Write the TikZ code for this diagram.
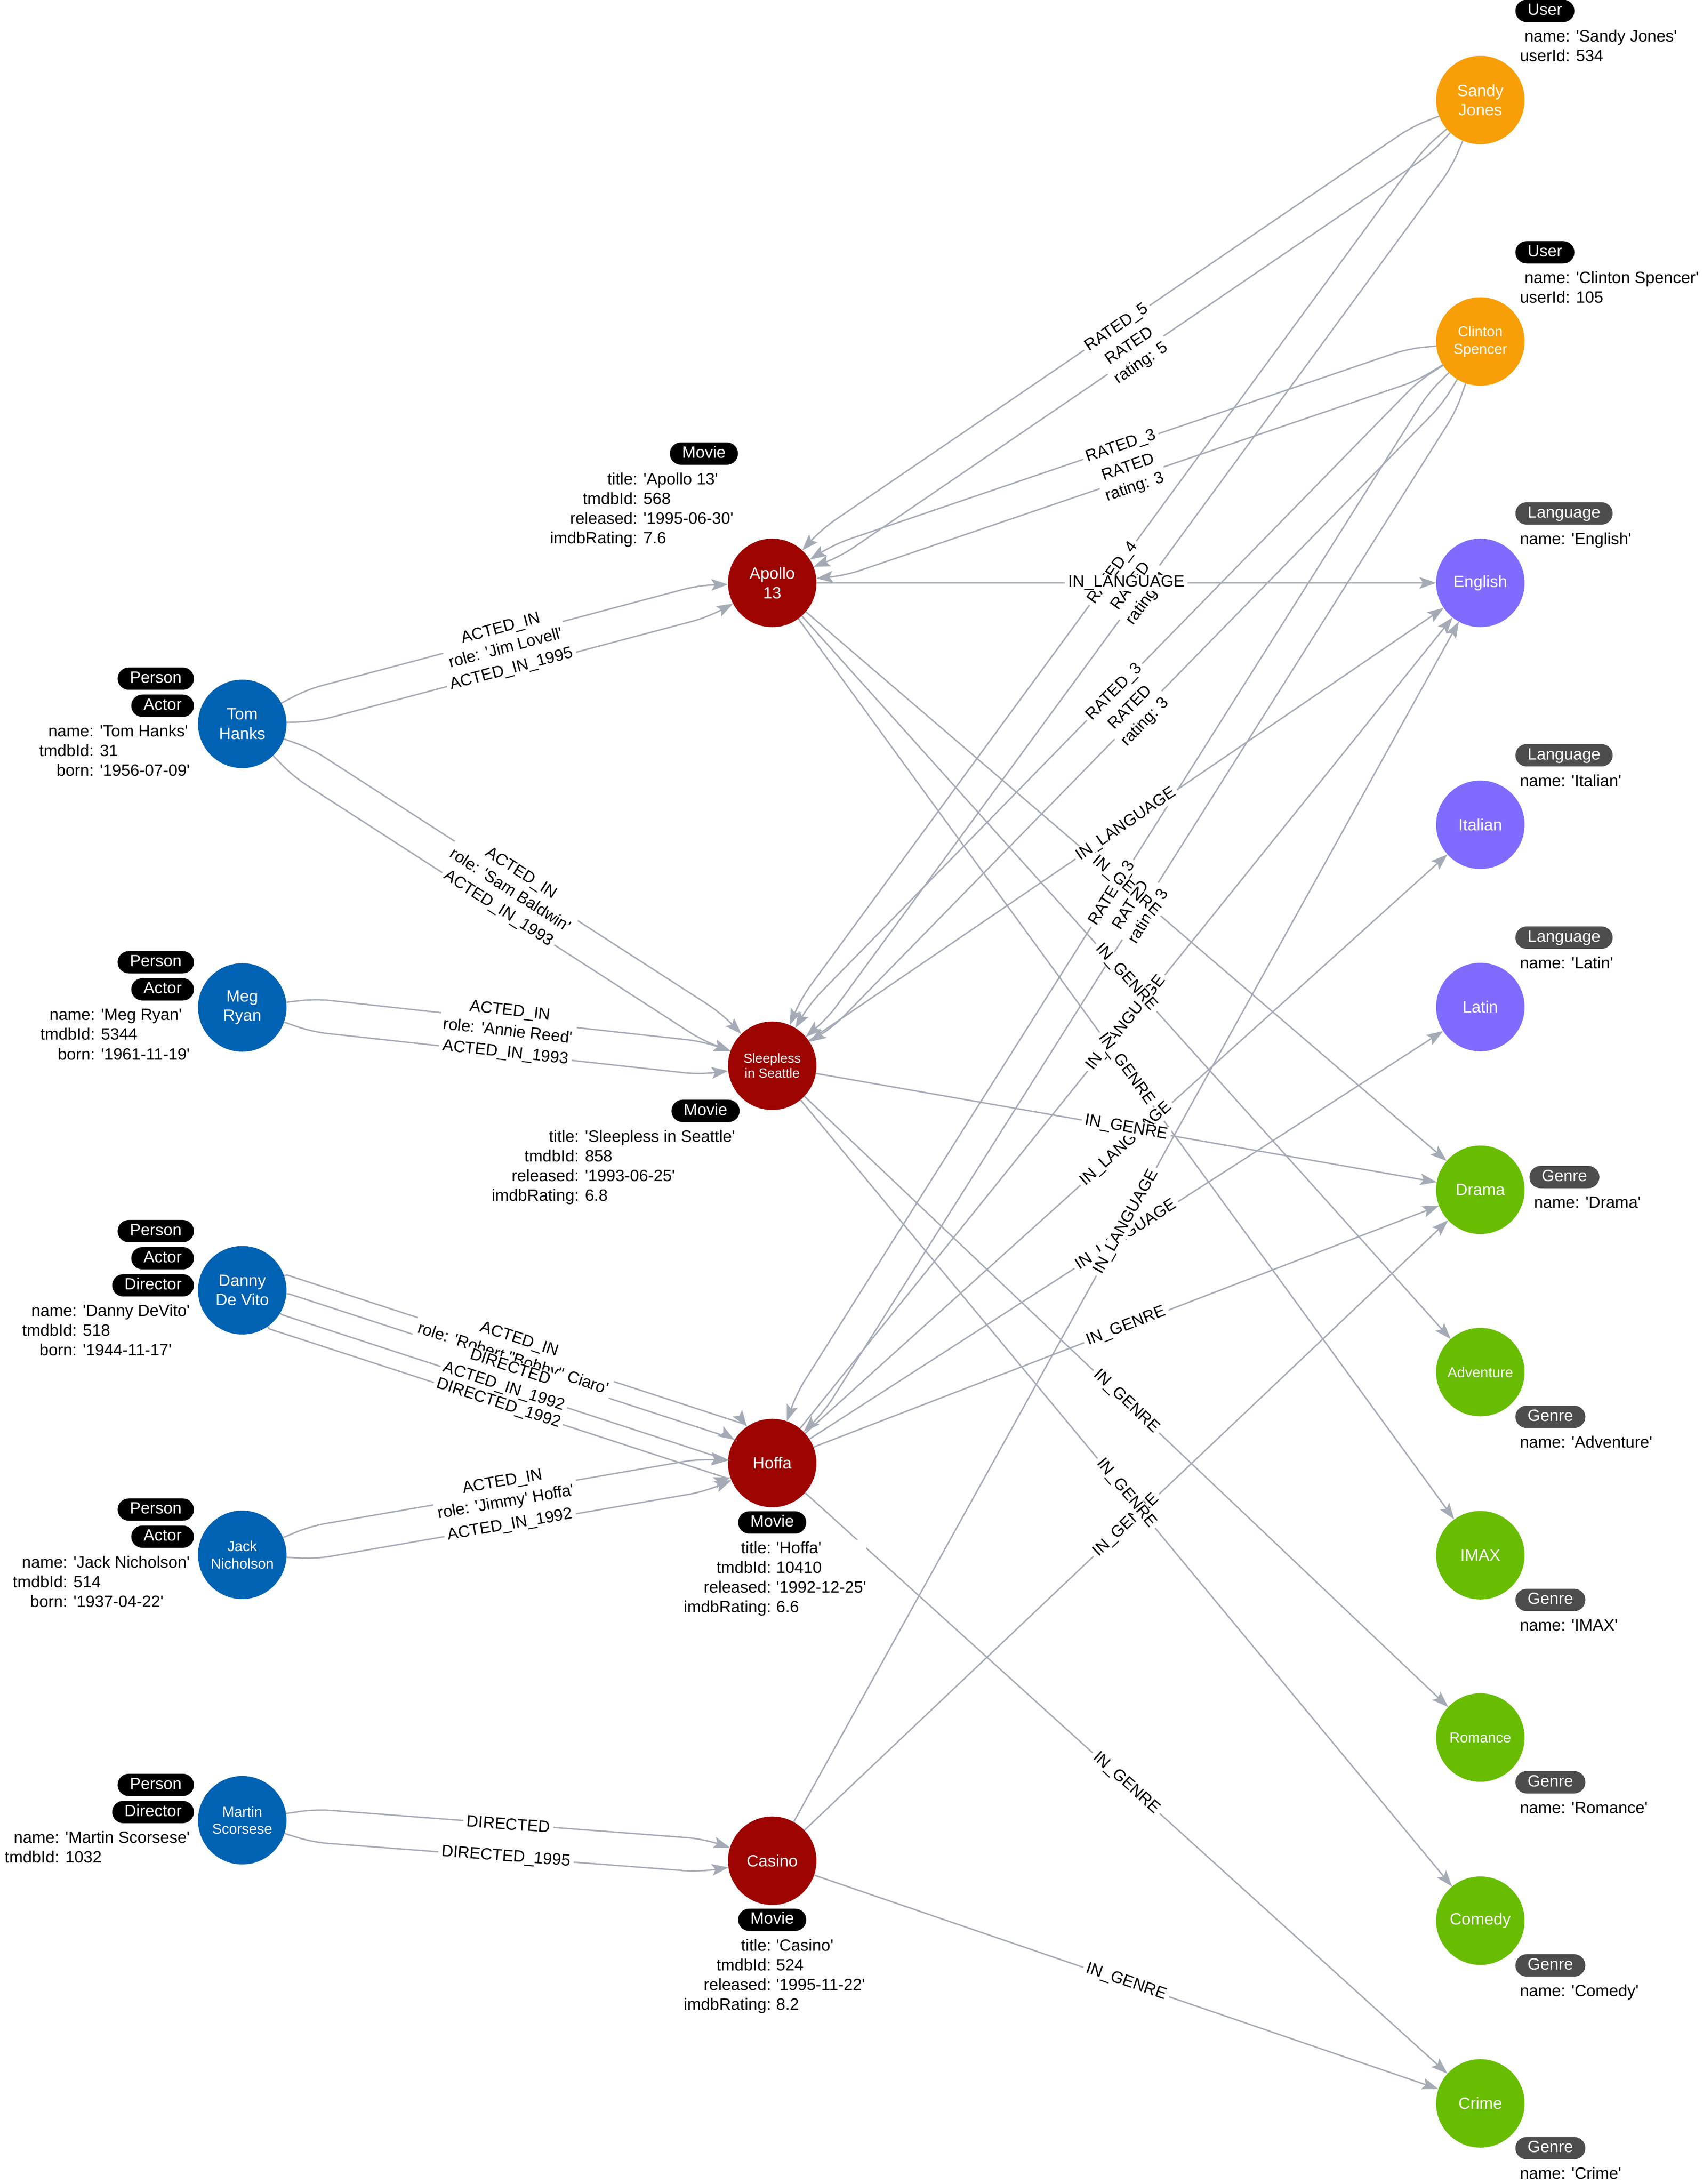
\documentclass[tikz,border=0pt]{standalone}
\usepackage{fontspec}
\newfontfamily\graphfont{Liberation Sans}
\usetikzlibrary{positioning,calc,arrows.meta}

\definecolor{personblue}{RGB}{0,98,178}
\definecolor{moviered}{RGB}{157,4,0}
\definecolor{userorange}{RGB}{248,158,7}
\definecolor{langpurple}{RGB}{127,108,255}
\definecolor{genregreen}{RGB}{104,189,0}
\definecolor{relgray}{RGB}{165,171,182}
\definecolor{taggray}{RGB}{77,77,77}

\newcommand{\capfont}{\graphfont\fontsize{9.9pt}{11.75pt}\selectfont}
\newcommand{\smallcapfont}{\graphfont\fontsize{8.7pt}{10.5pt}\selectfont}
\newcommand{\tinycapfont}{\graphfont\fontsize{8pt}{9.1pt}\selectfont}
\newcommand{\propfont}{\graphfont\fontsize{9.9pt}{11.9pt}\selectfont}
\newcommand{\relfont}{\graphfont\fontsize{9.9pt}{12.5pt}\selectfont}

\begin{document}
\begin{tikzpicture}[
	entity/.style={circle, minimum size=53.5pt, inner sep=0pt, outer sep=0pt, text=white, align=center, font=\capfont},
	person/.style={entity, fill=personblue},
	movie/.style={entity, fill=moviered},
	user/.style={entity, fill=userorange},
	language/.style={entity, fill=langpurple},
	genre/.style={entity, fill=genregreen},
	tag/.style={fill=black, text=white, rounded corners=6.75pt, minimum height=13.5pt, inner xsep=7.4pt, inner ysep=0pt, text height=7.2pt, text depth=2pt, font=\propfont},
	graytag/.style={tag, fill=taggray},
	props/.style={fill=white, inner sep=0pt, font=\propfont},
	rel/.style={draw=relgray, line width=0.85pt, rounded corners=9pt, -{Stealth[length=10pt, width=7pt, inset=2pt]}},
	lbl/.style={midway, sloped, fill=white, inner xsep=2pt, inner ysep=0.5pt, align=center, font=\relfont},
	lane left/.style 2 args={to path={
		($(\tikztostart)!26.75pt!#1:(\tikztotarget)$)
		-- ($(\tikztostart)!#2!#1:(\tikztotarget)$)
		-- ($(\tikztotarget)!#2!-#1:(\tikztostart)$) \tikztonodes
		-- ($(\tikztotarget)!26.75pt!-#1:(\tikztostart)$)}},
	lane right/.style 2 args={to path={
		($(\tikztostart)!26.75pt!-#1:(\tikztotarget)$)
		-- ($(\tikztostart)!#2!-#1:(\tikztotarget)$)
		-- ($(\tikztotarget)!#2!#1:(\tikztostart)$) \tikztonodes
		-- ($(\tikztotarget)!26.75pt!#1:(\tikztostart)$)}},
	pair left/.style={lane left={13}{44.5pt}},
	pair right/.style={lane right={13}{44.5pt}}
	]
	\useasboundingbox (0,0) rectangle (1029.75pt,-1320.75pt);

	\node (sandy) [user] at (895.25pt,-60.5pt) {Sandy\\Jones};
	\node (clinton) [user, node distance=146pt, below of=sandy, font=\smallcapfont] {Clinton\\Spencer};
	\node (english) [language, node distance=146pt, below of=clinton] {English};
	\node (italian) [language, node distance=146.25pt, below of=english] {Italian};
	\node (latin) [language, node distance=110.25pt, below of=italian] {Latin};
	\node (drama) [genre, node distance=110.5pt, below of=latin] {Drama};
	\node (adventure) [genre, node distance=110.25pt, below of=drama, font=\smallcapfont] {Adventure};
	\node (imax) [genre, node distance=110.75pt, below of=adventure] {IMAX};
	\node (romance) [genre, node distance=110.25pt, below of=imax, font=\smallcapfont] {Romance};
	\node (comedy) [genre, node distance=110.75pt, below of=romance] {Comedy};
	\node (crime) [genre, node distance=110.5pt, below of=comedy] {Crime};

	\node (apollo) [movie, node distance=428.25pt, left of=english] {Apollo\\13};
	\node (sleepless) [movie, node distance=292pt, below of=apollo, font=\tinycapfont] {Sleepless\\in Seattle};
	\node (hoffa) [movie, node distance=240.25pt, below of=sleepless] {Hoffa};
	\node (casino) [movie, node distance=240.5pt, below of=hoffa] {Casino};

	\node (tom) [person, node distance=320.5pt, left of=apollo, yshift=-85.25pt] {Tom\\Hanks};
	\node (meg) [person, node distance=171.5pt, below of=tom] {Meg\\Ryan};
	\node (danny) [person, node distance=171pt, below of=meg] {Danny\\De Vito};
	\node (jack) [person, node distance=160pt, below of=danny, font=\smallcapfont] {Jack\\Nicholson};
	\node (martin) [person, node distance=160.5pt, below of=jack, font=\smallcapfont] {Martin\\Scorsese};

	\draw[rel, pair right] (sandy) to (apollo);
	\draw[rel, pair left] (sandy) to (apollo);
	\draw[rel, pair right] (sandy) to (sleepless);
	\draw[rel, pair left] (sandy) to (sleepless);
	\draw[rel, pair right] (clinton) to (apollo);
	\draw[rel, pair left] (clinton) to (apollo);
	\draw[rel, pair right] (clinton) to (sleepless);
	\draw[rel, pair left] (clinton) to (sleepless);
	\draw[rel, pair right] (clinton) to (hoffa);
	\draw[rel, pair left] (clinton) to (hoffa);
	\draw[rel, pair left] (tom) to (apollo);
	\draw[rel, pair right] (tom) to (apollo);
	\draw[rel, pair left] (tom) to (sleepless);
	\draw[rel, pair right] (tom) to (sleepless);
	\draw[rel, pair left] (meg) to (sleepless);
	\draw[rel, pair right] (meg) to (sleepless);
	\draw[rel, sharp corners, lane left={37}{28.5pt}] (danny) to (hoffa);
	\draw[rel, sharp corners, lane left={13.5}{28.5pt}] (danny) to (hoffa);
	\draw[rel, sharp corners, lane right={13.5}{28.5pt}] (danny) to (hoffa);
	\draw[rel, sharp corners, lane right={37}{28.5pt}] (danny) to (hoffa);
	\draw[rel, pair left] (jack) to (hoffa);
	\draw[rel, pair right] (jack) to (hoffa);
	\draw[rel, pair left] (martin) to (casino);
	\draw[rel, pair right] (martin) to (casino);
	\draw[rel] (apollo) -- (english);
	\draw[rel] (apollo) -- (drama);
	\draw[rel] (apollo) -- (adventure);
	\draw[rel] (apollo) -- (imax);
	\draw[rel] (sleepless) -- (english);
	\draw[rel] (sleepless) -- (drama);
	\draw[rel] (sleepless) -- (romance);
	\draw[rel] (sleepless) -- (comedy);
	\draw[rel] (hoffa) -- (english);
	\draw[rel] (hoffa) -- (italian);
	\draw[rel] (hoffa) -- (latin);
	\draw[rel] (hoffa) -- (drama);
	\draw[rel] (hoffa) -- (crime);
	\draw[rel] (casino) -- (english);
	\draw[rel] (casino) -- (drama);
	\draw[rel] (casino) -- (crime);

	\node (tomProps) [props, anchor=north east] at ([xshift=-4.75pt, yshift=0.75pt]tom.west) {\begin{tabular}{@{}r@{: }l@{}}name&'Tom Hanks'\\tmdbId&31\\born&'1956-07-09'\end{tabular}};
	\node (tomActor) [tag, anchor=south east] at ([xshift=2.5pt, yshift=3.25pt]tomProps.north east) {Actor};
	\node (tomPerson) [tag, above=2.5pt of tomActor.north east, anchor=south east] {Person};
	\node (megProps) [props, anchor=north east] at ([xshift=-4.75pt, yshift=0.75pt]meg.west) {\begin{tabular}{@{}r@{: }l@{}}name&'Meg Ryan'\\tmdbId&5344\\born&'1961-11-19'\end{tabular}};
	\node (megActor) [tag, anchor=south east] at ([xshift=2.5pt, yshift=3.25pt]megProps.north east) {Actor};
	\node (megPerson) [tag, above=2.5pt of megActor.north east, anchor=south east] {Person};
	\node (dannyProps) [props, anchor=north east] at ([xshift=-4.75pt, yshift=-7.25pt]danny.west) {\begin{tabular}{@{}r@{: }l@{}}name&'Danny DeVito'\\tmdbId&518\\born&'1944-11-17'\end{tabular}};
	\node (dannyDirector) [tag, anchor=south east] at ([xshift=2.5pt, yshift=3.25pt]dannyProps.north east) {Director};
	\node (dannyActor) [tag, above=2.5pt of dannyDirector.north east, anchor=south east] {Actor};
	\node (dannyPerson) [tag, above=2.5pt of dannyActor.north east, anchor=south east] {Person};
	\node (jackProps) [props, anchor=north east] at ([xshift=-4.75pt, yshift=0.75pt]jack.west) {\begin{tabular}{@{}r@{: }l@{}}name&'Jack Nicholson'\\tmdbId&514\\born&'1937-04-22'\end{tabular}};
	\node (jackActor) [tag, anchor=south east] at ([xshift=2.5pt, yshift=3.25pt]jackProps.north east) {Actor};
	\node (jackPerson) [tag, above=2.5pt of jackActor.north east, anchor=south east] {Person};
	\node (martinProps) [props, anchor=north east] at ([xshift=-4.75pt, yshift=-5.25pt]martin.west) {\begin{tabular}{@{}r@{: }l@{}}name&'Martin Scorsese'\\tmdbId&1032\end{tabular}};
	\node (martinDirector) [tag, anchor=south east] at ([xshift=2.5pt, yshift=3.25pt]martinProps.north east) {Director};
	\node (martinPerson) [tag, above=2.5pt of martinDirector.north east, anchor=south east] {Person};

	\node (apolloProps) [props, anchor=south east] at ([xshift=-23.25pt, yshift=20pt]apollo.center) {\begin{tabular}{@{}r@{: }l@{}}title&'Apollo 13'\\tmdbId&568\\released&'1995-06-30'\\imdbRating&7.6\end{tabular}};
	\node (apolloMovie) [tag, anchor=south east] at ([xshift=2.75pt, yshift=3.25pt]apolloProps.north east) {Movie};
	\node (sleeplessProps) [props, anchor=north east] at ([xshift=-22.25pt, yshift=-37.5pt]sleepless.center) {\begin{tabular}{@{}r@{: }l@{}}title&'Sleepless in Seattle'\\tmdbId&858\\released&'1993-06-25'\\imdbRating&6.8\end{tabular}};
	\node (sleeplessMovie) [tag, anchor=south east] at ([xshift=2.75pt, yshift=3.25pt]sleeplessProps.north east) {Movie};
	\node (hoffaMovie) [tag, below=2.25pt of hoffa] {Movie};
	\node (hoffaKeys) [props, anchor=north east] at ([xshift=-0.5pt, yshift=-3.25pt]hoffaMovie.south) {\begin{tabular}{@{}r@{}}title:\\tmdbId:\\released:\\imdbRating:\end{tabular}};
	\node (hoffaValues) [props, anchor=north west] at ([xshift=2.75pt]hoffaKeys.north east) {\begin{tabular}{@{}l@{}}'Hoffa'\\10410\\'1992-12-25'\\6.6\end{tabular}};
	\node (casinoMovie) [tag, below=2pt of casino] {Movie};
	\node (casinoKeys) [props, anchor=north east] at ([xshift=-0.5pt, yshift=-3.25pt]casinoMovie.south) {\begin{tabular}{@{}r@{}}title:\\tmdbId:\\released:\\imdbRating:\end{tabular}};
	\node (casinoValues) [props, anchor=north west] at ([xshift=2.75pt]casinoKeys.north east) {\begin{tabular}{@{}l@{}}'Casino'\\524\\'1995-11-22'\\8.2\end{tabular}};

	\node (sandyProps) [props, anchor=south west] at ([xshift=23.75pt, yshift=19.5pt]sandy.center) {\begin{tabular}{@{}r@{: }l@{}}name&'Sandy Jones'\\userId&534\end{tabular}};
	\node (sandyUser) [tag, anchor=south west] at ([xshift=-2.75pt, yshift=3.25pt]sandyProps.north west) {User};
	\node (clintonProps) [props, anchor=south west] at ([xshift=23.75pt, yshift=19.5pt]clinton.center) {\begin{tabular}{@{}r@{: }l@{}}name&'Clinton Spencer'\\userId&105\end{tabular}};
	\node (clintonUser) [tag, anchor=south west] at ([xshift=-2.75pt, yshift=3.25pt]clintonProps.north west) {User};
	\node (englishProps) [props, anchor=south west] at ([xshift=23.75pt, yshift=19.5pt]english.center) {\begin{tabular}{@{}r@{: }l@{}}name&'English'\end{tabular}};
	\node (englishLanguage) [graytag, anchor=south west] at ([xshift=-2.75pt, yshift=3.25pt]englishProps.north west) {Language};
	\node (italianProps) [props, anchor=south west] at ([xshift=23.75pt, yshift=19.5pt]italian.center) {\begin{tabular}{@{}r@{: }l@{}}name&'Italian'\end{tabular}};
	\node (italianLanguage) [graytag, anchor=south west] at ([xshift=-2.75pt, yshift=3.25pt]italianProps.north west) {Language};
	\node (latinProps) [props, anchor=south west] at ([xshift=23.75pt, yshift=19.5pt]latin.center) {\begin{tabular}{@{}r@{: }l@{}}name&'Latin'\end{tabular}};
	\node (latinLanguage) [graytag, anchor=south west] at ([xshift=-2.75pt, yshift=3.25pt]latinProps.north west) {Language};
	\node (dramaProps) [props, anchor=north west] at ([xshift=5.5pt, yshift=-2.5pt]drama.east) {\begin{tabular}{@{}r@{: }l@{}}name&'Drama'\end{tabular}};
	\node (dramaGenre) [graytag, anchor=south west] at ([xshift=-2.75pt, yshift=3.25pt]dramaProps.north west) {Genre};
	\node (adventureProps) [props, anchor=north west] at ([xshift=23.75pt, yshift=-37.25pt]adventure.center) {\begin{tabular}{@{}r@{: }l@{}}name&'Adventure'\end{tabular}};
	\node (adventureGenre) [graytag, anchor=south west] at ([xshift=-2.75pt, yshift=3.25pt]adventureProps.north west) {Genre};
	\node (imaxProps) [props, anchor=north west] at ([xshift=23.75pt, yshift=-37.25pt]imax.center) {\begin{tabular}{@{}r@{: }l@{}}name&'IMAX'\end{tabular}};
	\node (imaxGenre) [graytag, anchor=south west] at ([xshift=-2.75pt, yshift=3.25pt]imaxProps.north west) {Genre};
	\node (romanceProps) [props, anchor=north west] at ([xshift=23.75pt, yshift=-37.25pt]romance.center) {\begin{tabular}{@{}r@{: }l@{}}name&'Romance'\end{tabular}};
	\node (romanceGenre) [graytag, anchor=south west] at ([xshift=-2.75pt, yshift=3.25pt]romanceProps.north west) {Genre};
	\node (comedyProps) [props, anchor=north west] at ([xshift=23.75pt, yshift=-37.25pt]comedy.center) {\begin{tabular}{@{}r@{: }l@{}}name&'Comedy'\end{tabular}};
	\node (comedyGenre) [graytag, anchor=south west] at ([xshift=-2.75pt, yshift=3.25pt]comedyProps.north west) {Genre};
	\node (crimeProps) [props, anchor=north west] at ([xshift=23.75pt, yshift=-37.25pt]crime.center) {\begin{tabular}{@{}r@{: }l@{}}name&'Crime'\end{tabular}};
	\node (crimeGenre) [graytag, anchor=south west] at ([xshift=-2.75pt, yshift=3.25pt]crimeProps.north west) {Genre};

	\path[pair right] (sandy) to node[lbl]{RATED\_5} (apollo);
	\path[pair left] (sandy) to node[lbl]{RATED\\rating: 5} (apollo);
	\path[pair right] (sandy) to node[lbl]{RATED\_4} (sleepless);
	\path[pair left] (sandy) to node[lbl]{RATED\\rating: 4} (sleepless);
	\path[pair right] (clinton) to node[lbl]{RATED\_3} (apollo);
	\path[pair left] (clinton) to node[lbl]{RATED\\rating: 3} (apollo);
	\path[pair right] (clinton) to node[lbl]{RATED\_3} (sleepless);
	\path[pair left] (clinton) to node[lbl]{RATED\\rating: 3} (sleepless);
	\path[pair right] (clinton) to node[lbl]{RATED\_3} (hoffa);
	\path[pair left] (clinton) to node[lbl]{RATED\\rating: 3} (hoffa);
	\path[pair left] (tom) to node[lbl]{ACTED\_IN\\role: 'Jim Lovell'} (apollo);
	\path[pair right] (tom) to node[lbl]{ACTED\_IN\_1995} (apollo);
	\path[pair left] (tom) to node[lbl]{ACTED\_IN\\role: 'Sam Baldwin'} (sleepless);
	\path[pair right] (tom) to node[lbl]{ACTED\_IN\_1993} (sleepless);
	\path[pair left] (meg) to node[lbl]{ACTED\_IN\\role: 'Annie Reed'} (sleepless);
	\path[pair right] (meg) to node[lbl]{ACTED\_IN\_1993} (sleepless);
	\path[lane left={37}{28.5pt}] (danny) to node[lbl]{ACTED\_IN\\role: 'Robert "Bobby" Ciaro'} (hoffa);
	\path[lane left={13.5}{28.5pt}] (danny) to node[lbl]{DIRECTED} (hoffa);
	\path[lane right={13.5}{28.5pt}] (danny) to node[lbl]{ACTED\_IN\_1992} (hoffa);
	\path[lane right={37}{28.5pt}] (danny) to node[lbl]{DIRECTED\_1992} (hoffa);
	\path[pair left] (jack) to node[lbl]{ACTED\_IN\\role: 'Jimmy' Hoffa'} (hoffa);
	\path[pair right] (jack) to node[lbl]{ACTED\_IN\_1992} (hoffa);
	\path[pair left] (martin) to node[lbl]{DIRECTED} (casino);
	\path[pair right] (martin) to node[lbl]{DIRECTED\_1995} (casino);
	\path (hoffa) -- node[lbl]{IN\_LANGUAGE} (english);
	\path (hoffa) -- node[lbl]{IN\_LANGUAGE} (italian);
	\path (hoffa) -- node[lbl]{IN\_LANGUAGE} (latin);
	\path (hoffa) -- node[lbl]{IN\_GENRE} (drama);
	\path (hoffa) -- node[lbl]{IN\_GENRE} (crime);
	\path (casino) -- node[lbl]{IN\_LANGUAGE} (english);
	\path (casino) -- node[lbl]{IN\_GENRE} (drama);
	\path (casino) -- node[lbl]{IN\_GENRE} (crime);
	\path (sleepless) -- node[lbl]{IN\_LANGUAGE} (english);
	\path (sleepless) -- node[lbl]{IN\_GENRE} (drama);
	\path (sleepless) -- node[lbl]{IN\_GENRE} (romance);
	\path (sleepless) -- node[lbl]{IN\_GENRE} (comedy);
	\path (apollo) -- node[lbl]{IN\_LANGUAGE} (english);
	\path (apollo) -- node[lbl]{IN\_GENRE} (drama);
	\path (apollo) -- node[lbl]{IN\_GENRE} (adventure);
	\path (apollo) -- node[lbl]{IN\_GENRE} (imax);
\end{tikzpicture}
\end{document}
